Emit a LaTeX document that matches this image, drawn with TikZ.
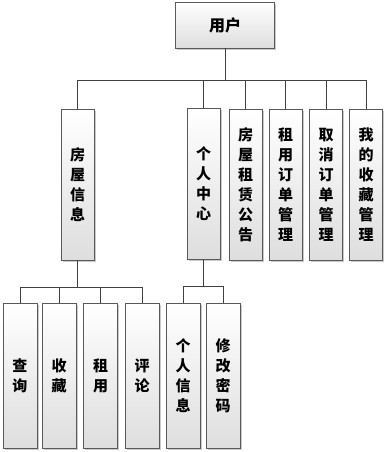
\documentclass[tikz,border=0pt]{standalone}
\usepackage{fontspec}
\newfontfamily\cjk{Noto Sans CJK SC}
\usepackage{tikz}
\usetikzlibrary{positioning, shadows, calc}

\tikzset{
  modbox/.style={draw=black!65, line width=0.8pt, inner sep=0pt, align=center,
    top color=white, bottom color=black!13,
    drop shadow={shadow xshift=1.6pt, shadow yshift=-1.6pt, fill=black!35, opacity=0.6},
    font=\cjk\bfseries\fontsize{15}{20}\selectfont},
  midbox/.style={modbox, minimum width=33pt, minimum height=151pt},
  leafbox/.style={modbox, minimum width=34pt, minimum height=145pt},
  link/.style={draw=black!75, line width=0.8pt}
}

\begin{document}
\begin{tikzpicture}[x=1pt, y=-1pt]
  \useasboundingbox (0,0) rectangle (387,452);
  % Root
  \node[modbox, minimum width=99pt, minimum height=46pt, font=\cjk\bfseries\fontsize{16}{20}\selectfont] (user) at (225,25) {用户};
  % Second level
  \node[midbox] (house)  at (77.5,184.5) {房\\屋\\信\\息};
  \node[midbox] (center) at (203.5,184) {个\\人\\中\\心};
  \node[midbox] (notice) at (245.5,184.5) {房\\屋\\租\\赁\\公\\告};
  \node[midbox] (order)  at (285.5,184.5) {租\\用\\订\\单\\管\\理};
  \node[midbox] (cancel) at (326,184.5) {取\\消\\订\\单\\管\\理};
  \node[midbox] (fav)    at (366,184.5) {我\\的\\收\\藏\\管\\理};
  % Third level
  \node[leafbox] (query)   at (20,375.5) {查\\询};
  \node[leafbox] (collect) at (59,375.5) {收\\藏};
  \node[leafbox] (rent)    at (100.5,375.5) {租\\用};
  \node[leafbox] (comment) at (142,375.5) {评\\论};
  \node[leafbox] (info)    at (183,375.5) {个\\人\\信\\息};
  \node[leafbox] (pwd)     at (223,375.5) {修\\改\\密\\码};
  % Connectors
  \foreach \n in {house, center, notice, order, cancel, fav}
    \draw[link] (user.south) -- ++(0,32) -| (\n.north);
  \foreach \n in {query, collect, rent, comment}
    \draw[link] (house.south) -- ++(0,27) -| (\n.north);
  \foreach \n in {info, pwd}
    \draw[link] (center.south) -- ++(0,26) -| (\n.north);
\end{tikzpicture}
\end{document}
